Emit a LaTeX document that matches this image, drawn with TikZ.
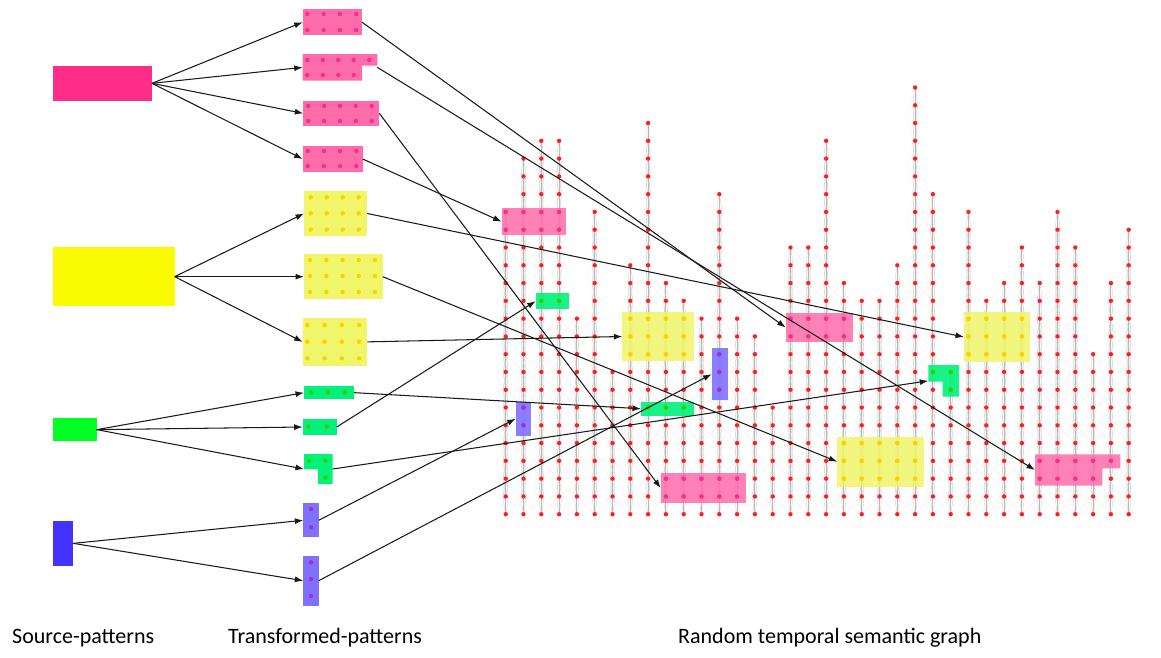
\documentclass[tikz,border=0pt]{standalone}
\usepackage{fontspec}
\setmainfont{Carlito}
\usetikzlibrary{arrows.meta}
\definecolor{srcpink}{RGB}{255,45,135}
\definecolor{srcyellow}{RGB}{250,250,0}
\definecolor{srcgreen}{RGB}{0,255,34}
\definecolor{srcpurple}{RGB}{68,51,255}
\definecolor{patpink}{RGB}{255,108,170}
\definecolor{patyellow}{RGB}{240,245,105}
\definecolor{patgreen}{RGB}{0,242,120}
\definecolor{patpurple}{RGB}{128,112,255}
\definecolor{dotpink}{RGB}{250,45,140}
\definecolor{dotyellow}{RGB}{245,212,0}
\definecolor{dotgreen}{RGB}{60,205,0}
\definecolor{dotpurple}{RGB}{150,50,220}
\definecolor{gred}{RGB}{255,30,30}
\definecolor{garrow}{RGB}{25,25,25}
\newcommand\pbox[6]{\node[#6, draw=none, inner sep=0pt, outer sep=0pt, rectangle, anchor=north west, minimum width={(#4-#2)*1pt}, minimum height={(#5-#3)*1pt}] (#1) at (#2,#3) {};}
\def\toplist{{17,20,21,21,11,17,8,14,22,13,12,11,18,11,10,6,15,15,21,13,12,12,14,24,18,8,17,12,13,15,13,17,15,9,13,16}}
\begin{document}
\begin{tikzpicture}[x=1pt,y=-1pt,
  arr/.style={-{Latex[length=8.5pt,width=6pt]}, line width=1.05pt, garrow},
  lbl/.style={font=\fontsize{22}{26}\selectfont, inner sep=0pt, anchor=base west},
  gedge/.style={gray!55, line width=0.9pt},
  gcurve/.style={gray!35, line width=0.4pt},
  oedge/.style={orange!12, line width=0.35pt},
  bedge/.style={blue!7, line width=0.35pt},
  gdot/.style={fill=gred},
  pp/.style={fill=patpink}, py/.style={fill=patyellow}, pg/.style={fill=patgreen}, pu/.style={fill=patpurple},
  op/.style={fill=patpink, fill opacity=0.85}, oy/.style={fill=patyellow, fill opacity=0.85},
  og/.style={fill=patgreen, fill opacity=0.9}, ou/.style={fill=patpurple, fill opacity=0.9},
  hid/.style={fill=none}]
\useasboundingbox (0,0) rectangle (1161,657);

% ---------- graph grid coordinates ----------
\foreach \c in {0,...,35} {
  \pgfmathtruncatemacro\ctop{\toplist[\c]}
  \foreach \k in {0,...,\ctop} {
    \coordinate (g-\c-\k) at ({505.7+17.8*\c},{514.2-17.78*\k});
  }
}
% faint cross edges
\foreach \c in {0,...,34} {
  \pgfmathtruncatemacro\ta{\toplist[\c]}
  \pgfmathtruncatemacro\tb{\toplist[\c+1]}
  \pgfmathtruncatemacro\cn{\c+1}
  \pgfmathtruncatemacro\mm{min(\ta,\tb)-1}
  \foreach \k in {0,2,...,\mm} {
    \pgfmathtruncatemacro\kk{\k+1}
    \draw[oedge] (g-\c-\k) -- (g-\cn-\kk);
    \draw[bedge] (g-\cn-\k) -- (g-\c-\kk);
  }
}
% column edges
\foreach \c in {0,...,35} {
  \pgfmathtruncatemacro\ctop{\toplist[\c]}
  \pgfmathtruncatemacro\tm{\ctop-2}
  \foreach \k in {0,...,\tm} {
    \pgfmathtruncatemacro\kk{\k+2}
    \draw[gcurve] (g-\c-\k) to[bend left=12] (g-\c-\kk);
    \draw[gcurve] (g-\c-\k) to[bend right=12] (g-\c-\kk);
  }
  \pgfmathtruncatemacro\tq{\ctop-3}
  \foreach \k in {0,3,...,\tq} {
    \pgfmathtruncatemacro\kk{\k+3}
    \draw[oedge] (g-\c-\k) to[bend left=25] (g-\c-\kk);
  }
  \draw[gedge] (g-\c-0) -- (g-\c-\ctop);
}
% graph dots
\foreach \c in {0,...,35} {
  \pgfmathtruncatemacro\ctop{\toplist[\c]}
  \foreach \k in {0,...,\ctop} { \fill[gdot] (g-\c-\k) circle (2.2pt); }
}

% ---------- overlays in graph ----------
\pbox{A}{501.7}{208.3}{565.7}{235}{op}
\foreach \c in {0,...,3} \foreach \k in {16,17} \fill[dotpink] (g-\c-\k) circle (2.3pt);
\pbox{B}{535.7}{293.3}{568.7}{309}{og}
\foreach \c in {2,3} \fill[dotgreen] (g-\c-12) circle (2.3pt);
\pbox{C}{622.3}{312}{694}{361}{oy}
\foreach \c in {7,...,10} \foreach \k in {9,10,11} \fill[dotyellow] (g-\c-\k) circle (2.3pt);
\pbox{D}{711.7}{348.3}{728.3}{400}{ou}
\foreach \k in {7,8,9} \fill[dotpurple] (g-12-\k) circle (2.3pt);
\pbox{E}{641}{401.7}{694}{415.7}{og}
\foreach \c in {8,9,10} \fill[dotgreen] (g-\c-6) circle (2.3pt);
\pbox{F}{515.7}{401.7}{530.7}{435.7}{ou}
\foreach \k in {5,6} \fill[dotpurple] (g-1-\k) circle (2.3pt);
\pbox{G}{660.7}{472.7}{745.7}{503.3}{op}
\foreach \c in {9,...,13} \foreach \k in {1,2} \fill[dotpink] (g-\c-\k) circle (2.3pt);
\pbox{H}{785.7}{312.7}{852.7}{342.3}{op}
\foreach \c in {16,...,19} \foreach \k in {10,11} \fill[dotpink] (g-\c-\k) circle (2.3pt);
\pbox{I}{964}{311.7}{1030}{362.3}{oy}
\foreach \c in {26,...,29} \foreach \k in {9,10,11} \fill[dotyellow] (g-\c-\k) circle (2.3pt);
\pbox{J}{928.3}{365}{959}{396.7}{hid}
\fill[patgreen, fill opacity=0.9] (928.3,365) -- (959,365) -- (959,396.7) -- (942.7,396.7) -- (942.7,381.7) -- (928.3,381.7) -- cycle;
\fill[dotgreen] (g-24-8) circle (2.3pt) (g-25-8) circle (2.3pt) (g-25-7) circle (2.3pt);
\pbox{K}{837.3}{436.7}{924}{486.7}{oy}
\foreach \c in {19,...,23} \foreach \k in {2,3,4} \fill[dotyellow] (g-\c-\k) circle (2.3pt);
\pbox{L}{1035}{454.3}{1120.3}{485.7}{hid}
\fill[patpink, fill opacity=0.85] (1035,454.3) -- (1120.3,454.3) -- (1120.3,468.3) -- (1102.3,468.3) -- (1102.3,485.7) -- (1035,485.7) -- cycle;
\foreach \c in {30,...,34} \fill[dotpink] (g-\c-3) circle (2.3pt);
\foreach \c in {30,...,33} \fill[dotpink] (g-\c-2) circle (2.3pt);

% ---------- source patterns ----------
\pbox{sP}{53.3}{66}{152}{100.7}{fill=srcpink}
\pbox{sY}{53.3}{247.3}{174.7}{306}{fill=srcyellow}
\pbox{sG}{53.3}{418.3}{96.7}{441}{fill=srcgreen}
\pbox{sU}{53.3}{521}{73.3}{565.7}{fill=srcpurple}

% ---------- transformed patterns ----------
\pbox{P1}{302.7}{9}{362}{35.3}{pp}
\foreach \i in {0,...,3} \foreach \y in {14,30} \fill[dotpink] ({307.3+16.3*\i},\y) circle (2.2pt);
\pbox{P2}{302.7}{54}{377.3}{80.7}{hid}
\fill[patpink] (302.7,54) -- (377.3,54) -- (377.3,65.5) -- (362,65.5) -- (362,80.7) -- (302.7,80.7) -- cycle;
\foreach \i in {0,...,4} \fill[dotpink] ({307.3+15.5*\i},60) circle (2.2pt);
\foreach \i in {0,...,3} \fill[dotpink] ({307.3+15.5*\i},75) circle (2.2pt);
\pbox{P3}{303.3}{100.7}{379.3}{126}{pp}
\foreach \i in {0,...,4} \foreach \y in {106,121} \fill[dotpink] ({308.3+15.85*\i},\y) circle (2.2pt);
\pbox{P4}{302.7}{146}{362.7}{172}{pp}
\foreach \i in {0,...,3} \foreach \y in {151,166} \fill[dotpink] ({307.7+16.2*\i},\y) circle (2.2pt);

\pbox{Y1}{304}{191}{367.3}{236}{py}
\foreach \i in {0,...,3} \foreach \y in {197.3,213.3,229.5} \fill[dotyellow] ({310.7+16*\i},\y) circle (2.2pt);
\pbox{Y2}{304}{254}{382.7}{299.3}{py}
\foreach \i in {0,...,4} \foreach \y in {260,276,292} \fill[dotyellow] ({310+16.25*\i},\y) circle (2.2pt);
\pbox{Y3}{302.7}{317.7}{367.3}{366}{py}
\foreach \i in {0,...,3} \foreach \y in {325,341.7,358.3} \fill[dotyellow] ({307.3+17.3*\i},\y) circle (2.2pt);

\pbox{G1}{304}{386}{354}{399.3}{pg}
\foreach \i in {0,1,2} \fill[dotgreen] ({310.7+17.2*\i},392.3) circle (2.2pt);
\pbox{G2}{302.7}{418.7}{336.7}{435.3}{pg}
\fill[dotgreen] (308.3,426.7) circle (2.2pt) (326.7,426.7) circle (2.2pt);
\pbox{G3}{304}{454}{332.7}{484}{hid}
\fill[patgreen] (304,454) -- (332.7,454) -- (332.7,484) -- (318,484) -- (318,469.3) -- (304,469.3) -- cycle;
\fill[dotgreen] (309,460.7) circle (2.2pt) (325.3,460.7) circle (2.2pt) (325.3,477.7) circle (2.2pt);

\pbox{U1}{303.3}{503.3}{318.7}{537.3}{pu}
\fill[dotpurple] (311,509) circle (2.2pt) (311,527.3) circle (2.2pt);
\pbox{U2}{303.3}{555.7}{318.7}{605.7}{pu}
\fill[dotpurple] (311,562.3) circle (2.2pt) (311,579) circle (2.2pt) (311,596) circle (2.2pt);

% ---------- arrows: source -> transformed ----------
\draw[arr] (sP.east) -- (P1.west);
\draw[arr] (sP.east) -- (P2.west);
\draw[arr] (sP.east) -- (P3.west);
\draw[arr] (sP.east) -- (P4.west);
\draw[arr] (sY.east) -- (Y1.west);
\draw[arr] (sY.east) -- (Y2.west);
\draw[arr] (sY.east) -- (Y3.west);
\draw[arr] (sG.east) -- (G1.west);
\draw[arr] (sG.east) -- (G2.west);
\draw[arr] (sG.east) -- (G3.west);
\draw[arr] (sU.east) -- (U1.west);
\draw[arr] (sU.east) -- (U2.west);

% ---------- arrows: transformed -> graph ----------
\draw[arr] (P1.east) -- (H.west);
\draw[arr] (P2.east) -- (L.west);
\draw[arr] (P3.east) -- (G.west);
\draw[arr] (P4.east) -- (A.west);
\draw[arr] (Y1.east) -- (I.west);
\draw[arr] (Y2.east) -- (K.west);
\draw[arr] (Y3.east) -- (C.west);
\draw[arr] (G1.east) -- (E.west);
\draw[arr] (G2.east) -- (B.west);
\draw[arr] (G3.east) -- (J.west);
\draw[arr] (U1.east) -- (F.west);
\draw[arr] (U2.east) -- (D.west);

% ---------- labels ----------
\node[lbl] (l1) at (12,643) {Source-patterns};
\node[lbl] (l2) at (228,643) {Transformed-patterns};
\node[lbl] (l3) at (678,643) {Random temporal semantic graph};
\end{tikzpicture}
\end{document}
